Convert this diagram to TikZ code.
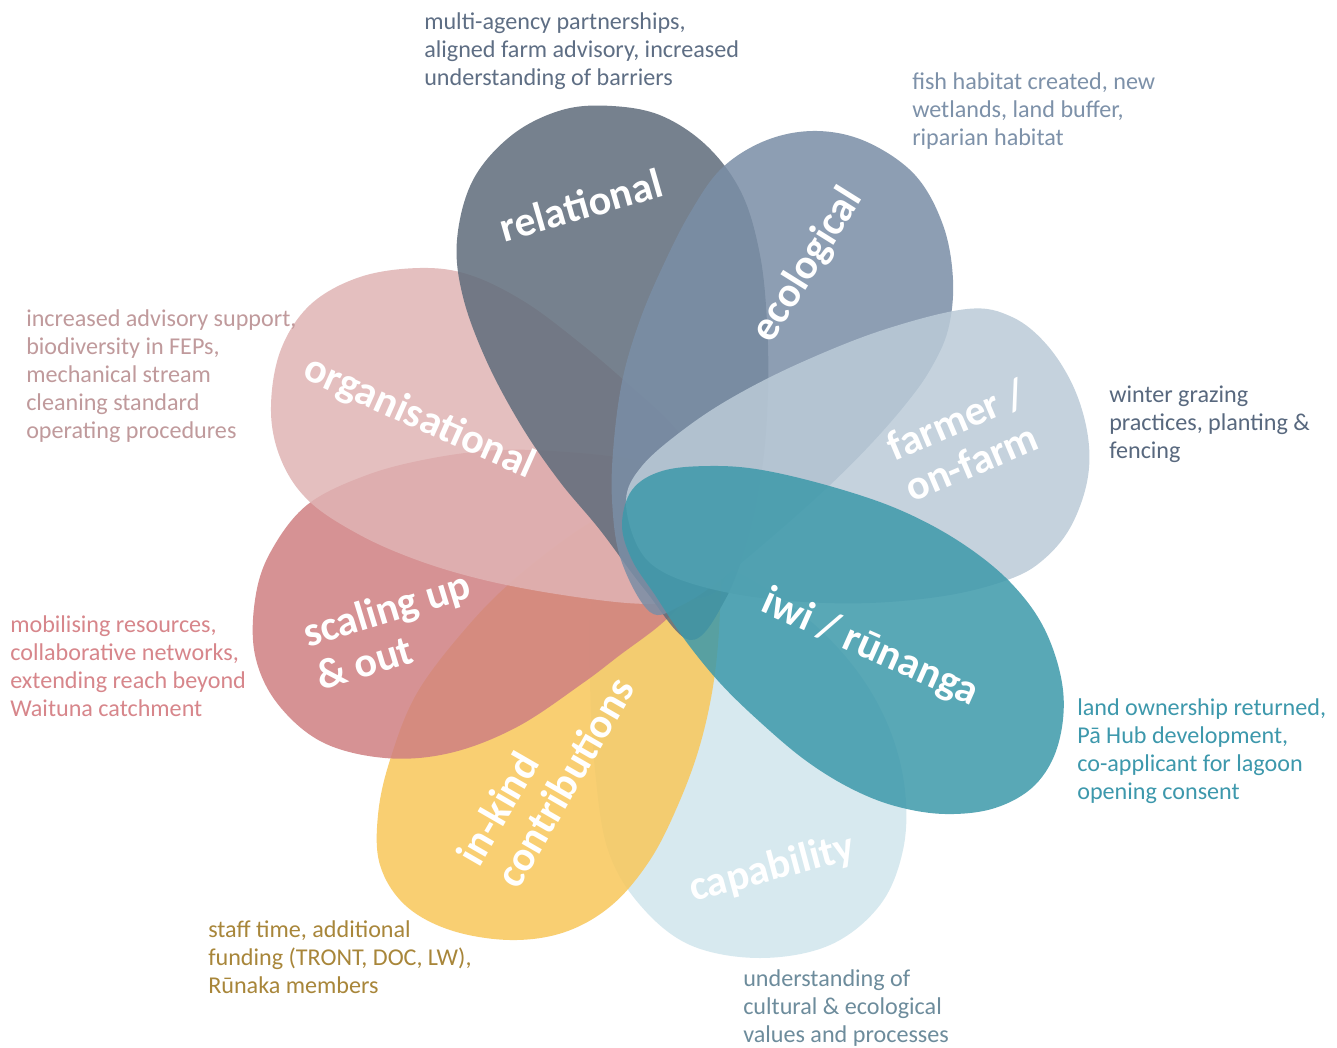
\documentclass[tikz,border=0pt]{standalone}
\usepackage{fontspec}
\setmainfont{Carlito}
\definecolor{crel}{HTML}{5F6C7B}
\definecolor{ceco}{HTML}{7A8EA6}
\definecolor{cfarm}{HTML}{BBCBD8}
\definecolor{ciwi}{HTML}{3D99AA}
\definecolor{ccap}{HTML}{D1E6ED}
\definecolor{ckind}{HTML}{F8C75A}
\definecolor{cscal}{HTML}{CF8082}
\definecolor{corg}{HTML}{E0B4B4}
\definecolor{trel}{HTML}{5E6E84}
\definecolor{teco}{HTML}{7D91A9}
\definecolor{torg}{HTML}{C09A9C}
\definecolor{tfarm}{HTML}{58687E}
\definecolor{tscal}{HTML}{D7868B}
\definecolor{tiwi}{HTML}{3D98AC}
\definecolor{tkind}{HTML}{A8863A}
\definecolor{tcap}{HTML}{6D8C9C}
\newcommand\descfont{\fontsize{18.1pt}{21pt}\selectfont}
\newcommand\labfont{\bfseries\fontsize{31.5pt}{34pt}\selectfont}
\begin{document}
\begin{tikzpicture}[x=0.75pt,y=-0.75pt,
  petal/.style={fill opacity=0.85, draw=none},
  desc/.style={anchor=base west, inner sep=0pt, font=\descfont},
  lab/.style={text=white, font=\labfont, align=left, inner sep=0pt}]
\useasboundingbox (0,0) rectangle (1337,1048);
\fill[white] (0,0) rectangle (1337,1048);
% petals, bottom to top
\fill[petal, ccap] plot[smooth cycle, tension=0.6] coordinates {(615,548) (592,600) (590,680) (595,770) (608,850) (640,905) (690,945) (760,958) (830,945) (880,905) (903,850) (905,790) (890,730) (860,675) (815,625) (760,585) (700,556) (650,545)};
\fill[petal, ckind] plot[smooth cycle, tension=0.6] coordinates {(705,492) (719,545) (720,610) (714,680) (700,745) (678,805) (650,860) (612,905) (565,932) (510,940) (450,930) (405,905) (380,865) (378,815) (390,760) (417,693) (467,627) (517,577) (583,527) (640,498)};
\fill[petal, cscal] plot[smooth cycle, tension=0.6] coordinates {(722,508) (712,560) (690,595) (660,625) (620,655) (583,683) (517,727) (450,753) (385,758) (322,742) (277,703) (255,655) (255,600) (270,553) (307,505) (367,475) (433,458) (500,450) (567,452) (633,460) (690,478)};
\fill[petal, corg] plot[smooth cycle, tension=0.6] coordinates {(728,545) (718,590) (672,602) (627,603) (550,593) (480,579) (417,560) (360,535) (310,502) (282,462) (271,412) (280,352) (310,305) (360,277) (420,268) (470,275) (525,302) (580,343) (627,383) (675,428) (710,480)};
\fill[petal, crel] plot[smooth cycle, tension=0.6] coordinates {(690,640) (645,590) (600,530) (560,482) (522,427) (487,362) (463,297) (457,240) (473,180) (512,135) (562,110) (612,106) (662,116) (708,147) (742,194) (760,255) (767,322) (768,392) (763,462) (750,532) (725,600)};
\fill[petal, ceco] plot[smooth cycle, tension=0.6] coordinates {(650,612) (621,560) (612,500) (614,440) (623,377) (640,320) (662,268) (690,213) (722,168) (767,140) (817,131) (867,142) (915,175) (943,225) (953,280) (948,330) (930,370) (905,405) (870,445) (830,485) (780,530) (720,580) (680,606)};
\fill[petal, cfarm] plot[smooth cycle, tension=0.6] coordinates {(626,500) (642,466) (683,430) (733,397) (800,363) (883,330) (967,309) (1012,317) (1047,345) (1074,388) (1088,437) (1087,482) (1070,528) (1043,560) (1010,579) (950,595) (870,603) (790,601) (720,591) (665,573) (638,547)};
\fill[petal, ciwi] plot[smooth cycle, tension=0.6] coordinates {(622,525) (632,490) (662,471) (710,466) (762,470) (833,487) (900,510) (960,542) (1010,582) (1045,630) (1063,690) (1058,745) (1035,785) (995,808) (945,814) (895,806) (850,788) (805,760) (760,722) (720,683) (685,640) (655,595) (632,560)};
% petal labels
\node[lab, rotate=16] (lrel) at (581,205) {relational};
\node[lab, rotate=58] (leco) at (808,265) {ecological};
\node[lab, rotate=23] (lfarm) at (965,440) {farmer /\\on-farm};
\node[lab, rotate=-24] (lorg) at (419,418) {organisational};
\node[lab, rotate=17] (lscal) at (393,630) {scaling up\\\& out};
\node[lab, rotate=60] (lkind) at (545,771) {in-kind\\contributions};
\node[lab, rotate=-24] (liwi) at (870,648) {iwi / rūnanga};
\node[lab, rotate=15] (lcap) at (772,869) {capability};
% descriptions
\node[desc, text=trel] (drel) at (424,30) {\begin{tabular}[t]{@{}l@{}}multi-agency partnerships,\\aligned farm advisory, increased\\understanding of barriers\end{tabular}};
\node[desc, text=teco] (deco) at (912,90) {\begin{tabular}[t]{@{}l@{}}fish habitat created, new\\wetlands, land buffer,\\riparian habitat\end{tabular}};
\node[desc, text=torg] (dorg) at (26,326) {\begin{tabular}[t]{@{}l@{}}increased advisory support,\\biodiversity in FEPs,\\mechanical stream\\cleaning standard\\operating procedures\end{tabular}};
\node[desc, text=tfarm] (dfarm) at (1109,402) {\begin{tabular}[t]{@{}l@{}}winter grazing\\practices, planting \&\\fencing\end{tabular}};
\node[desc, text=tscal] (dscal) at (10,632) {\begin{tabular}[t]{@{}l@{}}mobilising resources,\\collaborative networks,\\extending reach beyond\\Waituna catchment\end{tabular}};
\node[desc, text=tiwi] (diwi) at (1077,715) {\begin{tabular}[t]{@{}l@{}}land ownership returned,\\Pā Hub development,\\co-applicant for lagoon\\opening consent\end{tabular}};
\node[desc, text=tkind] (dkind) at (208,937) {\begin{tabular}[t]{@{}l@{}}staff time, additional\\funding (TRONT, DOC, LW),\\Rūnaka members\end{tabular}};
\node[desc, text=tcap] (dcap) at (743,986) {\begin{tabular}[t]{@{}l@{}}understanding of\\cultural \& ecological\\values and processes\end{tabular}};
\end{tikzpicture}
\end{document}
